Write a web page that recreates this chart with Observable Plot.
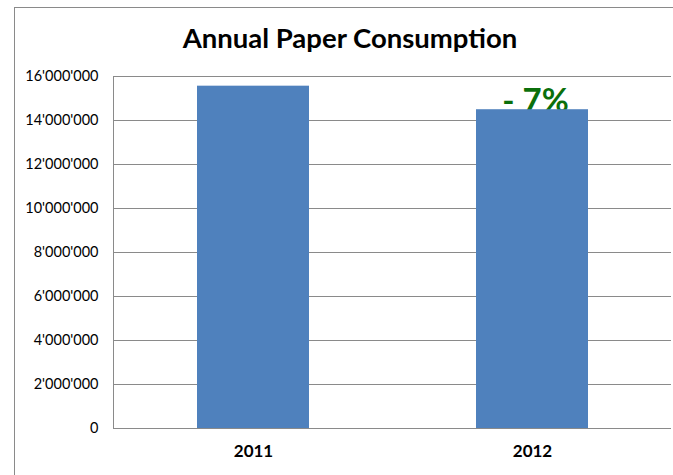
<!DOCTYPE html>
<html>
<head>
<meta charset="utf-8">
<script src="https://cdn.jsdelivr.net/npm/d3@7"></script>
<script src="https://cdn.jsdelivr.net/npm/@observablehq/plot@0.6"></script>
<style>
  html, body { margin: 0; padding: 0; background: #fff; }
  #wrap { position: relative; width: 673px; height: 475px; overflow: hidden; background: #fff; }
  #border { position: absolute; left: 14px; top: 7px; width: 800px; height: 600px;
            border-left: 1px solid #8a8a8a; border-top: 1px solid #8a8a8a; pointer-events: none; }
  #title { position: absolute; left: 14px; width: 672px; top: 24px; text-align: center;
           font: bold 27.5px/27.5px Lato, sans-serif; color: #000; }
  #chart { position: absolute; left: 0; top: 0; }
</style>
</head>
<body>
<div id="wrap">
  <div id="border"></div>
  <div id="title">Annual Paper Consumption</div>
  <div id="chart"></div>
</div>
<script>
const years = ["2011", "2012"];
const consumption = [15560000, 14490000];
const yTicks = [0, 2000000, 4000000, 6000000, 8000000, 10000000, 12000000, 14000000, 16000000];
const changeLabel = ["- 7%"];

const data = years.map((y, i) => ({year: y, value: consumption[i]}));
const fmt = d3.formatLocale({thousands: "'", grouping: [3], decimal: ".", currency: ["", ""]}).format(",");

const chart = Plot.plot({
  width: 673,
  height: 475,
  marginLeft: 113,
  marginRight: 2,
  marginTop: 76,
  marginBottom: 47,
  style: {background: "transparent", fontFamily: "Lato, sans-serif", color: "#000"},
  x: {domain: years, paddingInner: 0.6, paddingOuter: 0.3, label: null},
  y: {domain: [0, 16000000], label: null},
  marks: [
    Plot.ruleY(yTicks, {stroke: "#8a8a8a", strokeWidth: 1}),
    Plot.frame({anchor: "left", stroke: "#8a8a8a"}),
    Plot.text([data[1]], {x: "year", y: "value", text: () => changeLabel[0], lineAnchor: "bottom",
      dy: 2, dx: 3, fill: "#0b6f0b", fontSize: 33, fontWeight: "bold"}),
    Plot.barY(data, {x: "year", y: "value", fill: "#4f81bd"}),
    Plot.axisY({ticks: yTicks, tickFormat: fmt, tickSize: 0, tickPadding: 15, fontSize: 14.5, label: null}),
    Plot.axisX({tickSize: 0, tickPadding: 16, fontSize: 17, fontWeight: "bold", label: null})
  ]
});
document.getElementById("chart").appendChild(chart);
</script>
</body>
</html>
